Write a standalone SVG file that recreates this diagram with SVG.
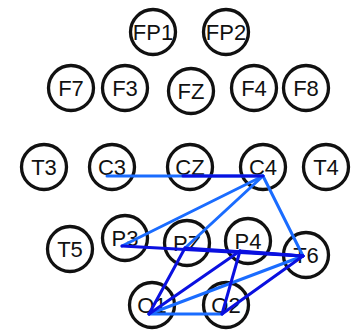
<svg xmlns="http://www.w3.org/2000/svg" width="352" height="331" viewBox="0 0 352 331">
<style>
.n circle{fill:#fff;stroke:#111;stroke-width:3.3}
.n text{font-family:"Liberation Sans",Arial,sans-serif;font-size:22px;fill:#111;text-anchor:middle}
.lt{stroke:#1a6cff;stroke-width:3;stroke-linecap:round;fill:none}
.dk{stroke:#0a10e0;stroke-width:3;stroke-linecap:round;fill:none}
</style>
<rect width="352" height="331" fill="#fff"/>
<g id="FP1" class="n"><circle cx="153" cy="32" r="22.5"/><text x="153" y="40">FP1</text></g>
<g id="FP2" class="n"><circle cx="226" cy="32" r="22.5"/><text x="226" y="40">FP2</text></g>
<g id="F7" class="n"><circle cx="71" cy="88" r="22.5"/><text x="71" y="96">F7</text></g>
<g id="F3" class="n"><circle cx="125" cy="88" r="22.5"/><text x="125" y="96">F3</text></g>
<g id="FZ" class="n"><circle cx="191" cy="91" r="22.5"/><text x="191" y="99">FZ</text></g>
<g id="F4" class="n"><circle cx="254" cy="88" r="22.5"/><text x="254" y="96">F4</text></g>
<g id="F8" class="n"><circle cx="306" cy="88" r="22.5"/><text x="306" y="96">F8</text></g>
<g id="T3" class="n"><circle cx="44" cy="167" r="22.5"/><text x="44" y="175">T3</text></g>
<g id="C3" class="n"><circle cx="112" cy="167" r="22.5"/><text x="112" y="175">C3</text></g>
<g id="CZ" class="n"><circle cx="190" cy="167" r="22.5"/><text x="190" y="175">CZ</text></g>
<g id="C4" class="n"><circle cx="263" cy="167" r="22.5"/><text x="263" y="175">C4</text></g>
<g id="T4" class="n"><circle cx="326" cy="167" r="22.5"/><text x="326" y="175">T4</text></g>
<g id="T5" class="n"><circle cx="70" cy="249" r="22.5"/><text x="70" y="257">T5</text></g>
<g id="P3" class="n"><circle cx="125" cy="238" r="22.5"/><text x="125" y="246">P3</text></g>
<g id="PZ" class="n"><circle cx="187" cy="243" r="22.5"/><text x="187" y="251">PZ</text></g>
<g id="P4" class="n"><circle cx="248" cy="241" r="22.5"/><text x="248" y="249">P4</text></g>
<g id="T6" class="n"><circle cx="306" cy="255" r="22.5"/><text x="306" y="263">T6</text></g>
<g id="O1" class="n"><circle cx="152" cy="305" r="22.5"/><text x="152" y="313">O1</text></g>
<g id="O2" class="n"><circle cx="226" cy="305" r="22.5"/><text x="226" y="313">O2</text></g>
<g id="connectors">
<line class="lt" x1="107" y1="176" x2="263" y2="176"/>
<line class="lt" x1="263" y1="176" x2="122" y2="246"/>
<line class="lt" x1="263" y1="176" x2="185" y2="248"/>
<line class="lt" x1="263" y1="176" x2="303" y2="256"/>
<line class="lt" x1="149" y1="314" x2="222" y2="314"/>
<line class="lt" x1="149" y1="314" x2="303" y2="256"/>
<line class="dk" x1="183" y1="176" x2="263" y2="176"/>
<line class="dk" x1="122" y1="246" x2="303" y2="256"/>
<line class="dk" x1="185" y1="248" x2="303" y2="256"/>
<line class="dk" x1="240" y1="251" x2="303" y2="256"/>
<line class="dk" x1="185" y1="248" x2="149" y2="314"/>
<line class="dk" x1="240" y1="251" x2="149" y2="314"/>
<line class="dk" x1="240" y1="251" x2="222" y2="314"/>
<line class="dk" x1="222" y1="314" x2="303" y2="256"/>
</g>
</svg>
